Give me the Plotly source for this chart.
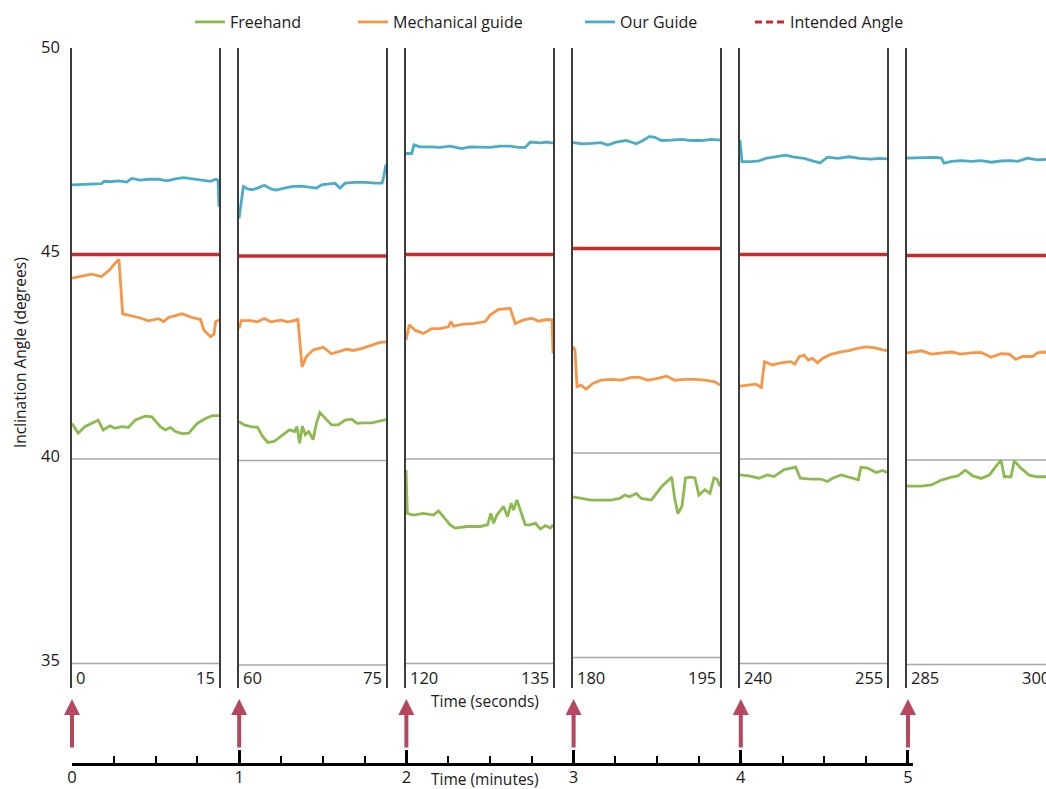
import plotly.graph_objects as go

# ---------------------------------------------------------------- data
SEGMENT_STARTS = [0, 60, 120, 180, 240, 285]   # seconds
SEGMENT_LENGTH = 15                              # seconds per recorded window
INTENDED_ANGLE = 45
MINUTE_MARKS = [0, 1, 2, 3, 4, 5]

# time within each window (s) and inclination angle (deg), one list per window
freehand_t = [
    [0, 0.62, 1.30, 2.16, 2.67, 3.18, 3.87, 4.38, 5.07, 5.75, 6.44, 7.47, 8.15, 9.01, 9.52, 10.03, 10.55, 11.23, 11.92, 12.77, 13.63, 14.32, 15.0],
    [0, 0.52, 1.20, 1.89, 2.41, 2.92, 3.61, 4.47, 5.15, 5.67, 5.91, 6.19, 6.46, 6.77, 7.11, 7.56, 7.90, 8.25, 8.76, 9.45, 10.14, 10.82, 11.51, 12.03, 12.71, 13.57, 14.26, 15.0],
    [0, 0.14, 0.75, 1.77, 2.80, 3.31, 3.82, 4.50, 5.01, 6.21, 7.57, 8.32, 8.66, 8.93, 9.27, 9.96, 10.36, 10.74, 10.98, 11.32, 11.66, 12.17, 12.68, 13.20, 13.71, 14.22, 14.73, 15.0],
    [0, 0.82, 1.84, 2.87, 3.89, 4.75, 5.30, 5.77, 6.46, 6.97, 7.99, 9.05, 10.08, 10.35, 10.69, 11.11, 11.48, 11.93, 12.44, 12.85, 13.46, 13.98, 14.38, 14.73, 15.0],
    [0, 0.92, 1.94, 2.80, 3.48, 4.50, 5.69, 6.14, 7.23, 8.25, 8.93, 9.44, 10.30, 11.32, 12.07, 12.34, 13.02, 13.88, 14.56, 15.0],
    [0, 1.49, 2.50, 3.51, 4.53, 5.20, 5.95, 6.72, 7.57, 8.41, 8.99, 9.59, 9.93, 10.61, 10.95, 11.62, 12.47, 13.31, 14.05, 15.0],
]
freehand_v = [
    [40.87, 40.63, 40.79, 40.89, 40.95, 40.71, 40.81, 40.75, 40.79, 40.77, 40.95, 41.05, 41.03, 40.79, 40.71, 40.77, 40.67, 40.62, 40.63, 40.87, 40.99, 41.06, 41.06],
    [40.95, 40.87, 40.83, 40.81, 40.59, 40.44, 40.47, 40.63, 40.75, 40.71, 40.83, 40.42, 40.84, 40.63, 40.71, 40.51, 40.91, 41.17, 41.05, 40.87, 40.87, 40.99, 41.01, 40.91, 40.92, 40.92, 40.96, 41.00],
    [39.73, 38.67, 38.63, 38.67, 38.63, 38.73, 38.59, 38.39, 38.31, 38.35, 38.35, 38.39, 38.67, 38.43, 38.63, 38.84, 38.59, 38.92, 38.75, 39.00, 38.75, 38.39, 38.39, 38.43, 38.29, 38.37, 38.31, 38.39],
    [38.93, 38.89, 38.85, 38.85, 38.85, 38.89, 38.97, 38.93, 39.01, 38.89, 38.85, 39.18, 39.41, 38.93, 38.52, 38.69, 39.39, 39.41, 39.39, 38.97, 39.10, 39.01, 39.39, 39.35, 39.18],
    [39.61, 39.59, 39.53, 39.61, 39.57, 39.74, 39.80, 39.53, 39.51, 39.51, 39.45, 39.53, 39.61, 39.53, 39.49, 39.80, 39.78, 39.67, 39.72, 39.67],
    [39.36, 39.36, 39.39, 39.51, 39.58, 39.61, 39.75, 39.61, 39.55, 39.63, 39.82, 40.00, 39.59, 39.59, 39.98, 39.80, 39.63, 39.59, 39.59, 39.58],
]

mechanical_t = [
    [0, 0.96, 1.99, 3.01, 3.87, 4.45, 4.79, 5.17, 5.75, 6.78, 7.81, 8.84, 9.35, 9.86, 11.23, 12.26, 13.12, 13.46, 14.14, 14.49, 14.66, 15.0],
    [0, 0.24, 1.20, 1.89, 2.58, 3.26, 4.30, 4.98, 5.84, 6.01, 6.43, 6.87, 7.56, 8.59, 9.45, 10.14, 11.00, 11.68, 12.54, 13.57, 14.26, 15.0],
    [0, 0.34, 0.92, 1.77, 2.63, 3.48, 4.33, 4.57, 4.84, 5.86, 6.89, 8.08, 8.59, 9.44, 10.64, 10.91, 11.15, 12.00, 12.85, 13.54, 14.39, 14.90, 15.0],
    [0, 0.20, 0.41, 0.82, 1.33, 2.02, 2.87, 3.89, 4.92, 5.94, 6.80, 7.65, 8.50, 9.53, 10.39, 11.41, 12.44, 13.46, 14.49, 15.0],
    [0, 0.92, 1.60, 2.18, 2.50, 3.31, 4.16, 5.18, 5.59, 6.03, 6.55, 6.96, 7.40, 7.91, 8.42, 9.27, 10.30, 11.15, 11.83, 12.85, 13.71, 14.56, 15.0],
    [0, 1.49, 2.50, 3.51, 4.53, 5.54, 6.55, 7.57, 8.58, 9.59, 10.44, 11.11, 11.79, 12.80, 13.31, 14.05, 15.0],
]
mechanical_v = [
    [44.42, 44.46, 44.52, 44.46, 44.63, 44.80, 44.88, 43.55, 43.52, 43.46, 43.38, 43.43, 43.36, 43.46, 43.55, 43.46, 43.41, 43.15, 42.99, 43.05, 43.36, 43.40],
    [43.23, 43.42, 43.42, 43.39, 43.47, 43.39, 43.43, 43.39, 43.43, 43.47, 42.29, 42.54, 42.70, 42.77, 42.61, 42.66, 42.72, 42.69, 42.74, 42.82, 42.88, 42.90],
    [42.91, 43.28, 43.15, 43.07, 43.19, 43.19, 43.23, 43.36, 43.25, 43.30, 43.31, 43.36, 43.52, 43.66, 43.68, 43.48, 43.31, 43.40, 43.44, 43.37, 43.41, 43.40, 42.58],
    [42.60, 42.52, 41.62, 41.66, 41.56, 41.70, 41.78, 41.80, 41.78, 41.85, 41.85, 41.78, 41.82, 41.88, 41.78, 41.80, 41.80, 41.78, 41.74, 41.66],
    [41.78, 41.80, 41.83, 41.75, 42.38, 42.30, 42.35, 42.38, 42.32, 42.50, 42.54, 42.42, 42.46, 42.35, 42.46, 42.56, 42.62, 42.65, 42.70, 42.74, 42.72, 42.67, 42.65],
    [42.62, 42.67, 42.59, 42.62, 42.64, 42.59, 42.62, 42.63, 42.51, 42.60, 42.59, 42.46, 42.53, 42.53, 42.62, 42.64, 42.60],
]

our_guide_t = [
    [0, 1.64, 3.01, 3.29, 4.04, 4.73, 5.58, 6.10, 6.95, 7.81, 8.84, 9.69, 10.55, 11.40, 12.43, 13.29, 14.14, 14.66, 14.90, 15.0],
    [0, 0.45, 0.86, 1.37, 1.89, 2.58, 3.26, 3.78, 4.64, 5.50, 6.36, 7.22, 7.90, 8.42, 9.28, 9.79, 10.31, 10.82, 11.86, 12.89, 13.92, 14.60, 14.78, 15.0],
    [0, 0.58, 0.82, 1.43, 2.45, 3.48, 4.50, 5.69, 6.55, 7.57, 8.59, 9.61, 10.64, 11.49, 12.17, 12.68, 13.71, 14.39, 15.0],
    [0, 0.99, 1.84, 2.87, 3.55, 4.41, 5.43, 6.46, 7.14, 7.82, 8.34, 9.02, 10.04, 11.07, 12.10, 13.12, 14.14, 15.0],
    [0, 0.07, 0.20, 1.09, 1.94, 2.63, 3.82, 4.67, 5.52, 6.55, 7.40, 8.18, 8.93, 9.96, 11.15, 12.17, 13.37, 14.22, 15.0],
    [0, 1.49, 2.84, 3.51, 3.78, 4.53, 5.54, 6.55, 7.57, 8.58, 9.59, 10.61, 11.28, 12.30, 13.31, 14.05, 15.0],
]
our_guide_v = [
    [46.70, 46.71, 46.73, 46.79, 46.78, 46.80, 46.77, 46.86, 46.82, 46.84, 46.84, 46.80, 46.85, 46.88, 46.84, 46.82, 46.79, 46.84, 46.82, 46.17],
    [45.92, 46.70, 46.64, 46.62, 46.66, 46.73, 46.64, 46.61, 46.66, 46.70, 46.71, 46.68, 46.66, 46.74, 46.76, 46.78, 46.66, 46.78, 46.80, 46.80, 46.78, 46.78, 46.95, 47.24],
    [47.47, 47.47, 47.68, 47.63, 47.63, 47.62, 47.65, 47.59, 47.63, 47.63, 47.62, 47.65, 47.65, 47.62, 47.62, 47.75, 47.73, 47.75, 47.72],
    [47.59, 47.56, 47.57, 47.59, 47.53, 47.60, 47.64, 47.56, 47.64, 47.74, 47.72, 47.64, 47.65, 47.67, 47.64, 47.64, 47.67, 47.65],
    [47.80, 47.60, 47.27, 47.27, 47.29, 47.35, 47.39, 47.43, 47.38, 47.35, 47.29, 47.24, 47.38, 47.35, 47.39, 47.35, 47.33, 47.35, 47.34],
    [47.38, 47.40, 47.40, 47.38, 47.26, 47.30, 47.32, 47.30, 47.32, 47.28, 47.31, 47.32, 47.30, 47.38, 47.34, 47.35, 47.38],
]

# ---------------------------------------------------------------- styling / layout
W, H = 1046, 789
FONT = "Open Sans, Lato, sans-serif"
TEXT = "#1a1a1a"
FREEHAND_COLOR = "#8DBA4E"
MECH_COLOR = "#F79646"
GUIDE_COLOR = "#4BACC6"
INTENDED_COLOR = "#CB2A2A"
ARROW_COLOR = "#B5485F"
FRAME_COLOR = "#3c3c3c"
GRID_COLOR = "#a8a8a8"

PANEL_LEFT_PX = [72, 239, 406, 573, 740, 907]
PANEL_W_PX = 147
PANEL_SHIFT_PX = [0, 1.5, 0, -6, 0, 1]   # small vertical offsets between windows
TOP_PX, BOTTOM_PX = 48, 688
Y50_PX, PX_PER_DEG = 50, 40.9

fig = go.Figure()
layout = {}
annotations = []
shapes = []

series = [
    ("Freehand", freehand_t, freehand_v, FREEHAND_COLOR, "legend"),
    ("Mechanical guide", mechanical_t, mechanical_v, MECH_COLOR, "legend2"),
    ("Our Guide", our_guide_t, our_guide_v, GUIDE_COLOR, "legend3"),
]

for i, start in enumerate(SEGMENT_STARTS):
    sfx = "" if i == 0 else str(i + 1)
    left = PANEL_LEFT_PX[i]
    right = min(left + PANEL_W_PX, W)
    x_end = start + SEGMENT_LENGTH * (right - left) / PANEL_W_PX
    o = PANEL_SHIFT_PX[i]
    y_top = 50 + (Y50_PX + o - TOP_PX) / PX_PER_DEG
    y_bot = 50 - (BOTTOM_PX - Y50_PX - o) / PX_PER_DEG

    layout[f"xaxis{sfx}"] = dict(domain=[left / W, right / W], range=[start, x_end],
                                 visible=False, anchor=f"y{sfx}", automargin=False)
    yax = dict(domain=[1 - BOTTOM_PX / H, 1 - TOP_PX / H], range=[y_bot, y_top],
               anchor=f"x{sfx}", showline=True, mirror=(right < W),
               linecolor=FRAME_COLOR, linewidth=1.6, showgrid=False, zeroline=False,
               ticks="", showticklabels=False, automargin=False)
    if i == 0:
        yax.update(showticklabels=True, tickvals=[35, 40, 45, 50],
                   tickfont=dict(family=FONT, size=16.5, color=TEXT),
                   ticklabelstandoff=7, ticklabelshift=-3)
    layout[f"yaxis{sfx}"] = yax

    # reference grid at 35 and 40 degrees
    for g in (35, 40):
        shapes.append(dict(type="line", xref=f"x{sfx} domain", yref=f"y{sfx}",
                           x0=0, x1=1, y0=g, y1=g,
                           line=dict(color=GRID_COLOR, width=1.3), layer="below"))

    # intended angle
    fig.add_trace(go.Scatter(x=[start, start + SEGMENT_LENGTH], y=[INTENDED_ANGLE] * 2,
                             mode="lines", line=dict(color=INTENDED_COLOR, width=3.5),
                             xaxis=f"x{sfx}", yaxis=f"y{sfx}", showlegend=False,
                             hoverinfo="skip"))

    for name, ts, vs, color, leg in series:
        fig.add_trace(go.Scatter(
            x=[start + t for t in ts[i]], y=vs[i], mode="lines", name=name,
            line=dict(color=color, width=2.8), xaxis=f"x{sfx}", yaxis=f"y{sfx}",
            legend=leg, legendgroup=name, showlegend=(i == 0)))

    # window start / end labels (domain fraction, so the last one may run off the page)
    end_frac = SEGMENT_LENGTH / (x_end - start)
    annotations.append(dict(x=0, y=1 - 677 / H, xref=f"x{sfx} domain", yref="paper",
                            text=str(start), showarrow=False, xanchor="left",
                            yanchor="middle", xshift=2,
                            font=dict(family=FONT, size=16.5, color=TEXT)))
    annotations.append(dict(x=end_frac, y=1 - 677 / H, xref=f"x{sfx} domain",
                            yref="paper", text=str(start + SEGMENT_LENGTH),
                            showarrow=False, xanchor="right", yanchor="middle",
                            xshift=-2, font=dict(family=FONT, size=16.5, color=TEXT)))

# legend-only entry for the intended angle (dashed sample)
fig.add_trace(go.Scatter(x=[None], y=[None], mode="lines", name="Intended Angle",
                         line=dict(color=INTENDED_COLOR, width=3, dash="7px,4px"),
                         legend="legend4", showlegend=True))

# minute timeline underneath
layout["xaxis7"] = dict(domain=[72 / W, 913 / W], range=[0, 5.03], anchor="y7",
                        showline=True, linecolor="black", linewidth=2.5,
                        ticks="inside", ticklen=13, tickwidth=2.5, tickcolor="black",
                        tickvals=MINUTE_MARKS, showgrid=False, zeroline=False,
                        tickfont=dict(family=FONT, size=16.5, color=TEXT),
                        ticklabelstandoff=-3, automargin=False,
                        minor=dict(ticks="inside", ticklen=7, tickwidth=2,
                                   tickcolor="black", dtick=0.25, tick0=0, showgrid=False))
layout["yaxis7"] = dict(domain=[1 - 763 / H, 0.1], range=[0, 1], anchor="x7",
                        visible=False, automargin=False)
fig.add_trace(go.Scatter(x=[None], y=[None], xaxis="x7", yaxis="y7", showlegend=False))

for m in MINUTE_MARKS:
    annotations.append(dict(x=m, y=1 - 699 / H, xref="x7", yref="paper", text="",
                            showarrow=True, ax=0, ay=50, axref="pixel", ayref="pixel",
                            arrowhead=2, arrowsize=0.8, arrowwidth=4,
                            arrowcolor=ARROW_COLOR, standoff=0))

annotations += [
    dict(x=20 / W, y=1 - 353 / H, xref="paper", yref="paper",
         text="Inclination Angle (degrees)", textangle=-90, showarrow=False,
         xanchor="center", yanchor="middle",
         font=dict(family=FONT, size=15.5, color=TEXT)),
    dict(x=485 / W, y=1 - 701 / H, xref="paper", yref="paper", text="Time (seconds)",
         showarrow=False, xanchor="center", yanchor="middle",
         font=dict(family=FONT, size=15.5, color=TEXT)),
    dict(x=485 / W, y=1 - 779 / H, xref="paper", yref="paper", text="Time (minutes)",
         showarrow=False, xanchor="center", yanchor="middle",
         font=dict(family=FONT, size=15.5, color=TEXT)),
]

legend_style = dict(orientation="h", yanchor="middle", y=1 - 22 / H, xanchor="left",
                    bgcolor="rgba(0,0,0,0)", borderwidth=0,
                    font=dict(family=FONT, size=16, color=TEXT))
layout["legend"] = dict(legend_style, x=190 / W)
layout["legend2"] = dict(legend_style, x=353 / W)
layout["legend3"] = dict(legend_style, x=580 / W)
layout["legend4"] = dict(legend_style, x=750 / W)

fig.update_layout(
    width=W, height=H, margin=dict(l=0, r=0, t=0, b=0, pad=0, autoexpand=False),
    paper_bgcolor="white", plot_bgcolor="white",
    annotations=annotations, shapes=shapes, **layout,
)

fig.write_html("out.html")
